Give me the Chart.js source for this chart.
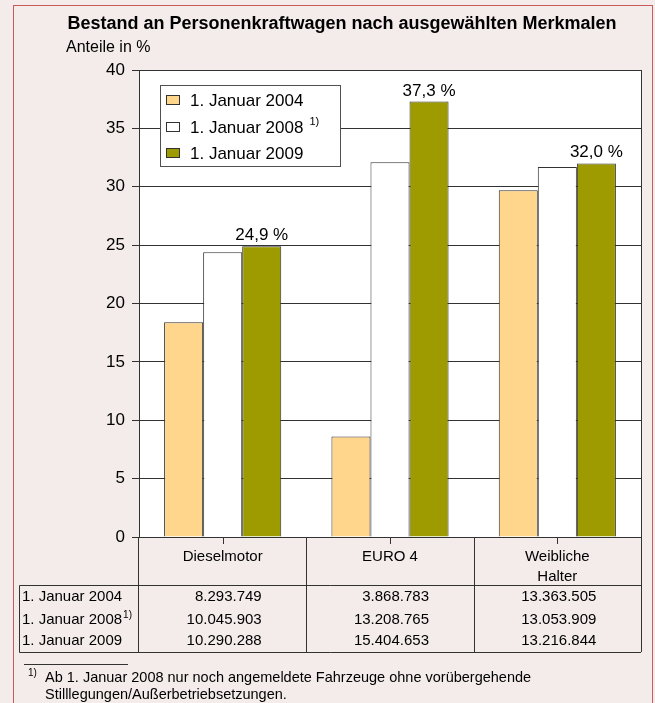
<!DOCTYPE html>
<html>

<head>
    <title>Bestand an Personenkraftwagen</title>
    <script src="https://cdn.jsdelivr.net/npm/chart.js@4"></script>
    <style type="text/css">
        html,
        body {
            margin: 0;
            padding: 0;
            background-color: rgb(244, 236, 235);
        }
    </style>
</head>

<body>
    <canvas id="chartPkw" width="655" height="703"></canvas>

    <script>
        // categories and series
        const categories = ["Dieselmotor", "EURO 4", ["Weibliche", "Halter"]];
        const seriesNames = ["1. Januar 2004", "1. Januar 2008", "1. Januar 2009"];
        const seriesMarks = ["", "1)", ""];
        const seriesColors = ["rgb(255, 214, 140)", "rgb(255, 255, 255)", "rgb(157, 155, 0)"];

        // Anteile in %
        const share2004 = [18.4, 8.6, 29.7];
        const share2008 = [24.4, 32.1, 31.7];
        const share2009 = [24.9, 37.3, 32.0];
        const labels2009 = ["24,9 %", "37,3 %", "32,0 %"];

        // Bestand (table under the chart)
        const count2004 = ["8.293.749", "3.868.783", "13.363.505"];
        const count2008 = ["10.045.903", "13.208.765", "13.053.909"];
        const count2009 = ["10.290.288", "15.404.653", "13.216.844"];

        const yMin = 0;
        const yMax = 40;
        const yStep = 5;

        const titleText = "Bestand an Personenkraftwagen nach ausgewählten Merkmalen";
        const unitText = "Anteile in %";
        const footnoteLines = [
            "Ab 1. Januar 2008 nur noch angemeldete Fahrzeuge ohne vorübergehende",
            "Stilllegungen/Außerbetriebsetzungen."
        ];

        const fontName = "'Liberation Sans', Arial, sans-serif";
        const lineColor = "rgb(50, 50, 50)";

        function font(size, bold) {
            return (bold ? "bold " : "") + size + "px " + fontName;
        }

        // background, white plot area
        const backgroundPlugin = {
            id: "background",
            beforeDraw(chart) {
                let ctx = chart.ctx;
                let a = chart.chartArea;
                ctx.save();
                ctx.fillStyle = "rgb(244, 236, 235)";
                ctx.fillRect(0, 0, chart.width, chart.height);
                ctx.strokeStyle = "rgb(200, 90, 90)";
                ctx.lineWidth = 1;
                ctx.strokeRect(13.5, 5.5, 639, 720);
                ctx.fillStyle = "#fff";
                ctx.fillRect(a.left, a.top, a.right - a.left, a.bottom - a.top);
                ctx.restore();
            }
        };

        // texts, legend, table and footnote
        const extrasPlugin = {
            id: "extras",
            afterDraw(chart) {
                let ctx = chart.ctx;
                let a = chart.chartArea;
                let xs = chart.scales.x;
                let half = (xs.getPixelForValue(1) - xs.getPixelForValue(0)) / 2;
                let tableTop = 585;
                let tableBottom = 652;

                ctx.save();
                ctx.fillStyle = "#000";
                ctx.textBaseline = "middle";

                // title
                ctx.font = font(18, true);
                ctx.textAlign = "center";
                ctx.fillText(titleText, 342, 24);
                ctx.font = font(16);
                ctx.textAlign = "left";
                ctx.fillText(unitText, 66, 48);

                // value labels on 2009 bars
                ctx.font = font(17);
                ctx.textAlign = "center";
                ctx.textBaseline = "alphabetic";
                chart.getDatasetMeta(2).data.forEach(function(bar, i) {
                    ctx.fillText(labels2009[i], bar.x, bar.y - 6);
                });
                ctx.textBaseline = "middle";

                // lines: right border, category cells, table
                ctx.strokeStyle = lineColor;
                ctx.lineWidth = 1;
                ctx.beginPath();
                ctx.moveTo(a.right + 0.5, a.top);
                ctx.lineTo(a.right + 0.5, tableBottom);
                ctx.moveTo(a.left - 0.5, a.bottom);
                ctx.lineTo(a.left - 0.5, tableBottom);
                for (let i = 0; i < categories.length; i++) {
                    let cx = Math.round(xs.getPixelForValue(i)) + 0.5;
                    ctx.moveTo(cx, a.bottom);
                    ctx.lineTo(cx, a.bottom + 7);
                    if (i > 0) {
                        let bx = Math.round(xs.getPixelForValue(i) - half) + 0.5;
                        ctx.moveTo(bx, a.bottom);
                        ctx.lineTo(bx, tableBottom);
                    }
                }
                ctx.moveTo(19.5, tableTop + 0.5);
                ctx.lineTo(a.right, tableTop + 0.5);
                ctx.moveTo(19.5, tableBottom + 0.5);
                ctx.lineTo(a.right, tableBottom + 0.5);
                ctx.moveTo(19.5, tableTop + 0.5);
                ctx.lineTo(19.5, tableBottom + 0.5);
                ctx.stroke();

                // category labels
                ctx.font = font(15);
                ctx.textAlign = "center";
                categories.forEach(function(c, i) {
                    let cx = xs.getPixelForValue(i);
                    let lines = Array.isArray(c) ? c : [c];
                    lines.forEach(function(t, j) {
                        ctx.fillText(t, cx, 557 + j * 20);
                    });
                });

                // table rows
                let rows = [count2004, count2008, count2009];
                let rowY = [597, 620, 641];
                rows.forEach(function(row, r) {
                    ctx.font = font(15);
                    ctx.textAlign = "left";
                    ctx.fillText(seriesNames[r], 22, rowY[r]);
                    if (seriesMarks[r]) {
                        let w = ctx.measureText(seriesNames[r]).width;
                        ctx.font = font(10);
                        ctx.fillText(seriesMarks[r], 23 + w, rowY[r] - 5);
                        ctx.font = font(15);
                    }
                    ctx.textAlign = "right";
                    row.forEach(function(v, i) {
                        ctx.fillText(v, xs.getPixelForValue(i) + 39, rowY[r]);
                    });
                });

                // footnote
                ctx.beginPath();
                ctx.moveTo(24, 664.5);
                ctx.lineTo(128, 664.5);
                ctx.stroke();
                ctx.font = font(10);
                ctx.textAlign = "left";
                ctx.fillText("1)", 28, 673);
                ctx.font = font(14.5);
                ctx.fillText(footnoteLines[0], 45, 678);
                ctx.fillText(footnoteLines[1], 45, 695);

                // legend
                let lx = 160, ly = 85, lw = 180, lh = 81;
                ctx.fillStyle = "#fff";
                ctx.fillRect(lx, ly, lw, lh);
                ctx.strokeStyle = "rgb(80, 80, 80)";
                ctx.strokeRect(lx + 0.5, ly + 0.5, lw, lh);
                let itemY = [100, 127, 153];
                chart.data.datasets.forEach(function(ds, i) {
                    ctx.fillStyle = ds.backgroundColor;
                    ctx.fillRect(166, itemY[i] - 5, 14, 10);
                    ctx.strokeStyle = lineColor;
                    ctx.strokeRect(166.5, itemY[i] - 4.5, 13, 9);
                    ctx.fillStyle = "#000";
                    ctx.font = font(17);
                    ctx.textAlign = "left";
                    ctx.fillText(ds.label, 190, itemY[i] + 1);
                    if (seriesMarks[i]) {
                        let w = ctx.measureText(ds.label).width;
                        ctx.font = font(11);
                        ctx.fillText(seriesMarks[i], 196 + w, itemY[i] - 5);
                    }
                });

                ctx.restore();
            }
        };

        const shares = [share2004, share2008, share2009];

        window.onload = function() {
            let ctx = document.getElementById("chartPkw").getContext("2d");

            new Chart(ctx, {
                type: "bar",
                data: {
                    labels: categories,
                    datasets: seriesNames.map(function(name, i) {
                        return {
                            label: name,
                            data: shares[i],
                            backgroundColor: seriesColors[i],
                            borderColor: lineColor,
                            borderWidth: 1,
                            categoryPercentage: 0.7,
                            barPercentage: 1.0
                        };
                    })
                },
                options: {
                    responsive: false,
                    animation: false,
                    devicePixelRatio: 1,
                    layout: {
                        padding: { left: 0, right: 14, top: 70, bottom: 166 }
                    },
                    plugins: {
                        legend: { display: false },
                        title: { display: false },
                        tooltip: { enabled: false }
                    },
                    scales: {
                        x: {
                            grid: { display: false },
                            border: { display: false },
                            ticks: { display: false },
                            afterFit: function(scale) { scale.height = 0; }
                        },
                        y: {
                            min: yMin,
                            max: yMax,
                            ticks: {
                                stepSize: yStep,
                                color: "#000",
                                padding: 7,
                                font: { family: fontName, size: 17 }
                            },
                            grid: {
                                color: lineColor,
                                lineWidth: 1,
                                tickLength: 7
                            },
                            border: { color: lineColor, width: 1 },
                            afterFit: function(scale) { scale.width = 139; }
                        }
                    }
                },
                plugins: [backgroundPlugin, extrasPlugin]
            });
        };
    </script>
</body>

</html>
